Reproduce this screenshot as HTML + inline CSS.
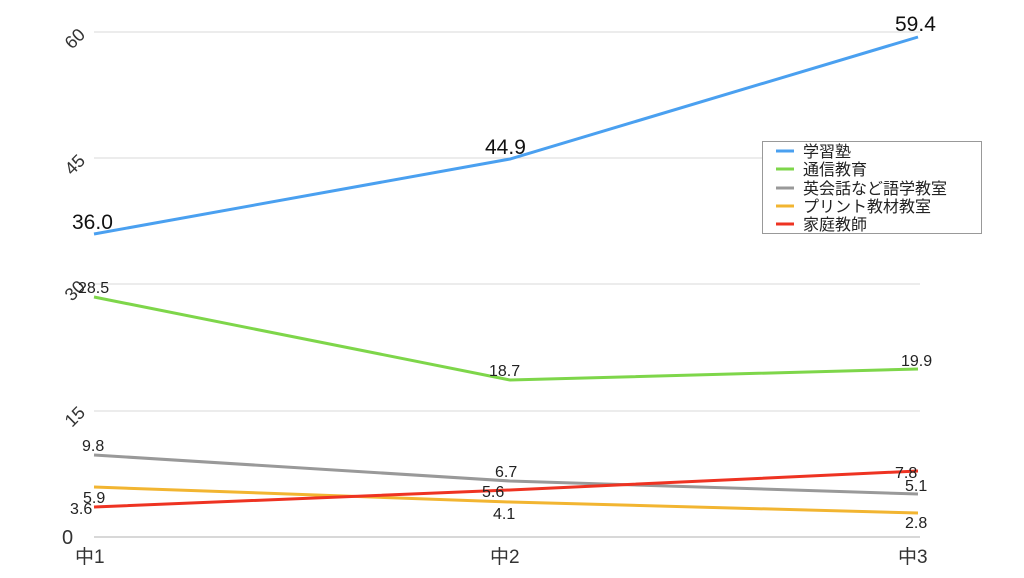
<!DOCTYPE html><html><head><meta charset="utf-8"><style>body{margin:0;background:#fff}</style></head><body>
<svg width="1024" height="573" xmlns="http://www.w3.org/2000/svg" font-family="Liberation Sans, Noto Sans CJK JP, sans-serif">
<g stroke="#d9d9d9" stroke-width="1">
<line x1="94" x2="920" y1="32" y2="32"/><line x1="94" x2="920" y1="158" y2="158"/><line x1="94" x2="920" y1="284" y2="284"/><line x1="94" x2="920" y1="411" y2="411"/></g>
<line x1="94" x2="920" y1="537" y2="537" stroke="#ccc" stroke-width="1.5"/>
<g font-size="18" fill="#333">
<text transform="translate(72,50) rotate(-45)">60</text>
<text transform="translate(72,176) rotate(-45)">45</text>
<text transform="translate(72,302) rotate(-45)">30</text>
<text transform="translate(72,428) rotate(-45)">15</text>
<text x="62" y="544" font-size="20">0</text>
<text x="75" y="563" font-size="19">中1</text>
<text x="490" y="563" font-size="19">中2</text>
<text x="898" y="563" font-size="19">中3</text></g>
<g fill="none" stroke-width="3">
<polyline stroke="#4aa0f0" points="94,234 510,159 918,37"/>
<polyline stroke="#7ed64a" points="94,297 510,380 918,369"/>
<polyline stroke="#999" points="94,455 510,481 918,494"/>
<polyline stroke="#f2b531" points="94,487 510,502 918,513"/>
<polyline stroke="#ee3322" points="94,507 510,490 918,471"/></g>
<g font-size="21" fill="#111">
<text x="72" y="229">36.0</text><text x="485" y="154">44.9</text><text x="895" y="31">59.4</text></g>
<g font-size="16" fill="#222">
<text x="78" y="293">28.5</text><text x="489" y="376">18.7</text><text x="901" y="366">19.9</text>
<text x="82" y="451">9.8</text><text x="495" y="477">6.7</text><text x="905" y="491">5.1</text>
<text x="83" y="503">5.9</text><text x="493" y="519">4.1</text><text x="905" y="528">2.8</text>
<text x="70" y="514">3.6</text><text x="482" y="497">5.6</text><text x="895" y="478">7.8</text></g>
<rect x="762.5" y="141.5" width="219" height="92" fill="#fff" stroke="#999"/>
<g stroke-width="3"><line x1="776" x2="794" y1="151" y2="151" stroke="#4aa0f0"/><line x1="776" x2="794" y1="169" y2="169" stroke="#7ed64a"/><line x1="776" x2="794" y1="188" y2="188" stroke="#999"/><line x1="776" x2="794" y1="206" y2="206" stroke="#f2b531"/><line x1="776" x2="794" y1="224" y2="224" stroke="#ee3322"/></g>
<g font-size="16" fill="#222">
<text x="803" y="157">学習塾</text><text x="803" y="175">通信教育</text><text x="803" y="194">英会話など語学教室</text><text x="803" y="212">プリント教材教室</text><text x="803" y="230">家庭教師</text></g>
</svg></body></html>
